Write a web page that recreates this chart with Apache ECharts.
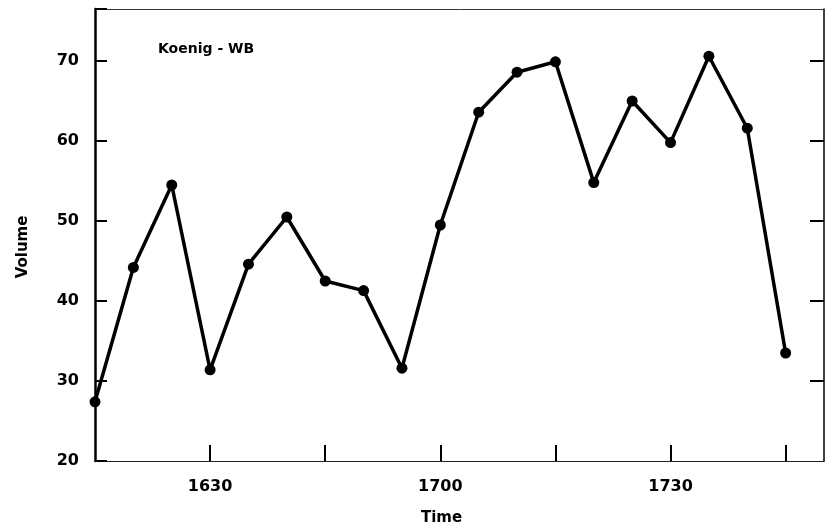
<!DOCTYPE html>
<html>
<head>
<meta charset="utf-8">
<script src="https://cdn.jsdelivr.net/npm/echarts@6/dist/echarts.min.js"></script>
<style>
html,body{margin:0;padding:0;background:#fff;}
#chart{width:825px;height:531px;}
</style>
</head>
<body>
<div id="chart"></div>
<script>
// Sample positions along the time axis (evenly spaced observations)
const timePos = [0, 1, 2, 3, 4, 5, 6, 7, 8, 9, 10, 11, 12, 13, 14, 15, 16, 17, 18];
// Volume values
const volume = [27.4, 44.2, 54.5, 31.4, 44.6, 50.5, 42.5, 41.3, 31.6, 49.5, 63.6, 68.6, 69.9, 54.8, 65.0, 59.8, 70.6, 61.6, 33.5];
// x tick positions and their printed labels
const xTickPos = [0, 3, 6, 9, 12, 15, 18];
const xTickLabels = ['', '1630', '', '1700', '', '1730', ''];
const yTicks = [20, 30, 40, 50, 60, 70];

const FONT = 'DejaVu Sans, Liberation Sans, Arial, sans-serif';
const chart = echarts.init(document.getElementById('chart'), null, {renderer: 'canvas'});

const xLabelMap = {};
xTickPos.forEach((p, i) => { xLabelMap[p] = xTickLabels[i]; });

chart.setOption({
  animation: false,
  backgroundColor: '#fff',
  title: {
    text: 'Koenig - WB',
    left: 153, top: 37,
    textStyle: {fontFamily: FONT, fontSize: 14, fontWeight: 'bold', color: '#000'}
  },
  grid: {left: 95, right: 1, top: 9, bottom: 70, containLabel: false},
  xAxis: [{
    type: 'value', min: 0, max: 19,
    name: 'Time', nameLocation: 'middle', nameGap: 50,
    nameTextStyle: {fontFamily: FONT, fontSize: 15, fontWeight: 'bold', color: '#000', padding: [0, 36, 0, 0]},
    axisLine: {show: true, onZero: false, lineStyle: {color: '#222', width: 1.2}},
    axisTick: {show: true, inside: true, length: 16, customValues: xTickPos.slice(1), lineStyle: {color: '#000', width: 2}},
    axisLabel: {
      margin: 18, fontFamily: FONT, fontSize: 16, fontWeight: 'bold', color: '#000',
      customValues: xTickPos,
      formatter: v => (xLabelMap[v] !== undefined ? xLabelMap[v] : '')
    },
    splitLine: {show: false}
  }, {
    type: 'value', min: 0, max: 19, position: 'top',
    axisLine: {show: true, onZero: false, lineStyle: {color: '#333', width: 1}},
    axisTick: {show: false}, axisLabel: {show: false}, splitLine: {show: false}
  }],
  yAxis: [{
    type: 'value', min: 20, max: 76.5, interval: 10,
    name: 'Volume', nameLocation: 'middle', nameGap: 64,
    nameTextStyle: {fontFamily: FONT, fontSize: 15, fontWeight: 'bold', color: '#000', padding: [0, 24, 0, 0]},
    axisLine: {show: true, onZero: false, lineStyle: {color: '#000', width: 2.5}},
    axisTick: {show: true, inside: true, length: 12, lineStyle: {color: '#000', width: 2}},
    axisLabel: {
      margin: 16, fontFamily: FONT, fontSize: 16, fontWeight: 'bold', color: '#000',
      formatter: v => (yTicks.indexOf(v) >= 0 ? String(v) : '')
    },
    splitLine: {show: false}
  }, {
    type: 'value', min: 20, max: 76.5, position: 'right',
    axisLine: {show: true, onZero: false, lineStyle: {color: '#000', width: 1.5}},
    axisTick: {show: true, inside: true, length: 14, customValues: yTicks.slice(1), lineStyle: {color: '#000', width: 2}},
    axisLabel: {show: false}, splitLine: {show: false}
  }],
  series: [{
    type: 'line',
    xAxisIndex: 0, yAxisIndex: 0,
    data: timePos.map((t, i) => [t, volume[i]]),
    symbol: 'circle', symbolSize: 11,
    itemStyle: {color: '#000'},
    lineStyle: {color: '#000', width: 3.5},
    silent: true
  }]
});
</script>
</body>
</html>
